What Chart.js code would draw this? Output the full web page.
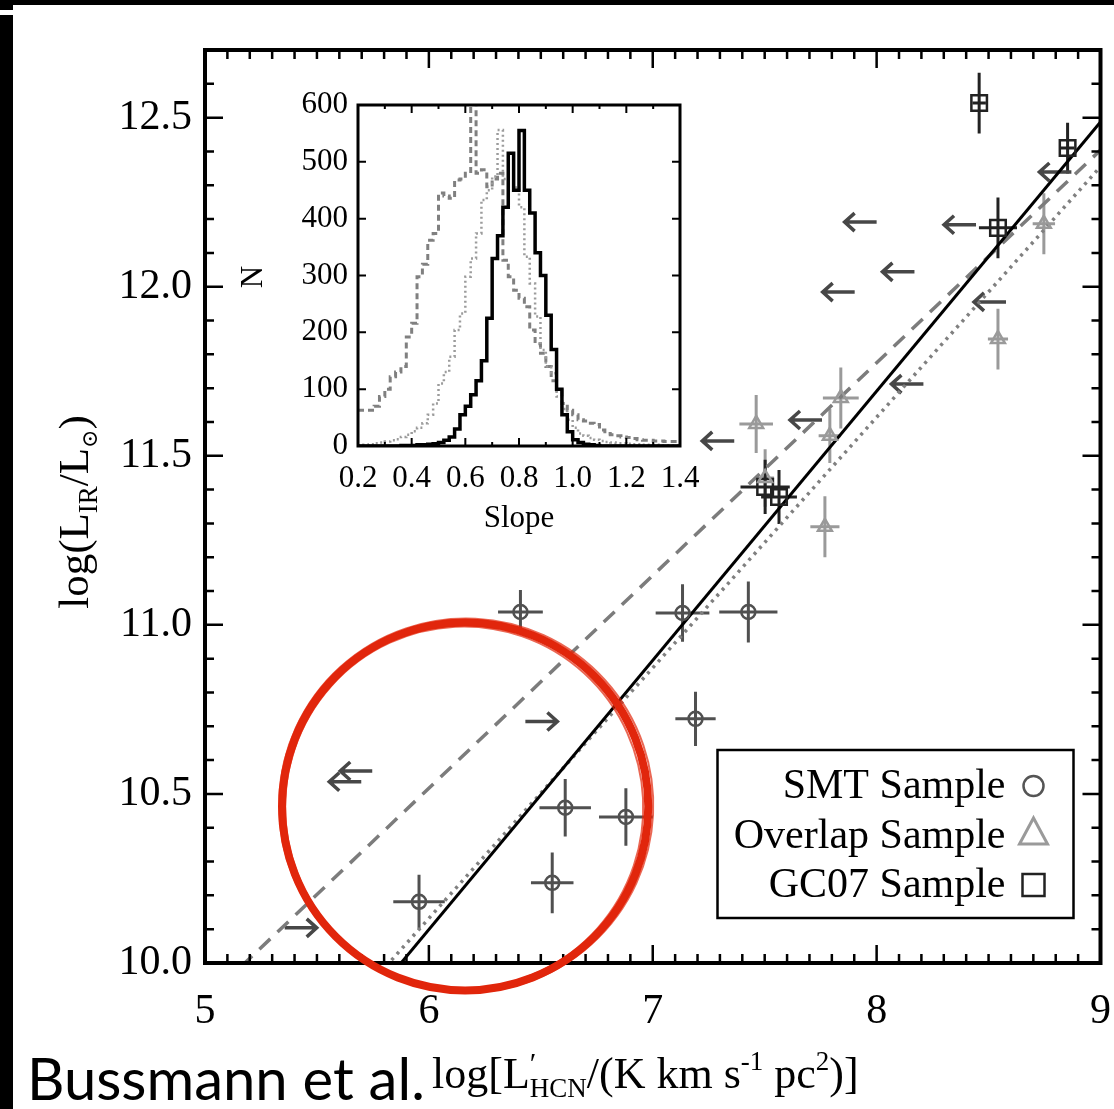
<!DOCTYPE html>
<html><head><meta charset="utf-8">
<script src="https://cdn.jsdelivr.net/npm/chart.js@4.4.0/dist/chart.umd.min.js"></script>
<style>
html,body{margin:0;padding:0;background:#fff;width:1114px;height:1109px;overflow:hidden}
body{position:relative}
#main{position:absolute;left:0;top:0;width:1114px;height:1109px}
#inset{position:absolute;left:240px;top:75px;width:470px;height:480px}
.bar{position:absolute;background:#000}
#caption{position:absolute;left:27px;top:1049px;font-family:Lato,sans-serif;font-size:58px;line-height:58px;color:#000;white-space:nowrap}
</style></head><body>
<canvas id="main" width="1114" height="1109"></canvas>
<canvas id="inset" width="470" height="480"></canvas>
<div class="bar" style="left:0;top:0;width:1114px;height:5px"></div>
<div class="bar" style="left:0;top:0;width:13px;height:10px"></div>
<div class="bar" style="left:0;top:15px;width:13px;height:1094px"></div>
<div id="caption">Bussmann et al.</div>
<script>
// ---------- main panel data ----------
const xTickLabels = [5, 6, 7, 8, 9];
const yTickLabels = [10.0, 10.5, 11.0, 11.5, 12.0, 12.5];

// SMT sample (circles)
const smtX    = [6.409, 7.133, 7.427, 7.191, 6.609, 6.880, 6.551, 5.956];
const smtY    = [11.038, 11.035, 11.038, 10.722, 10.459, 10.432, 10.237, 10.181];
const smtXerr = [0.10, 0.12, 0.13, 0.09, 0.115, 0.12, 0.095, 0.115];
const smtYerr = [0.065, 0.085, 0.09, 0.08, 0.085, 0.085, 0.09, 0.08];

// Overlap sample (triangles)
const ovX    = [8.747, 8.542, 7.840, 7.462, 7.791, 7.769, 7.502];
const ovY    = [12.186, 11.845, 11.671, 11.594, 11.559, 11.290, 11.434];
const ovXerr = [0.05, 0.045, 0.08, 0.075, 0.05, 0.065, 0.04];
const ovYerr = [0.09, 0.09, 0.09, 0.086, 0.08, 0.09, 0.085];

// GC07 sample (squares)
const gcX    = [8.458, 8.853, 8.542, 7.502, 7.564];
const gcY    = [12.543, 12.410, 12.174, 11.408, 11.378];
const gcXerr = [0.03, 0.03, 0.085, 0.11, 0.08];
const gcYerr = [0.09, 0.075, 0.09, 0.08, 0.08];

// upper limits in L'HCN (left arrows) and lower limits (right arrows)
const ulX = [8.000, 8.444, 8.169, 7.902, 8.578, 8.870, 8.209, 7.756, 7.364, 5.698, 5.747];
const ulY = [12.191, 12.183, 12.044, 11.984, 11.955, 12.339, 11.712, 11.606, 11.544, 10.536, 10.568];
const llX = [6.431, 5.356];
const llY = [10.714, 10.104];

// fits: logLIR = a + b logL'HCN
const fitStyle     = ['solid', 'dashed', 'dotted'];
const fitSlope     = [0.796, 0.629, 0.741];
const fitIntercept = [5.323, 6.743, 5.686];

// red hand-drawn circle annotation (data units)
const circleCenter = [6.162, 10.463];
const circleRadius = [0.818, 0.544];

// ---------- inset data ----------
const insetXTicks = [0.2, 0.4, 0.6, 0.8, 1.0, 1.2, 1.4];
const insetYTicks = [0, 100, 200, 300, 400, 500, 600];
const slopeBinEdges = [0.20,0.22,0.24,0.26,0.28,0.30,0.32,0.34,0.36,0.38,0.40,0.42,0.44,0.46,0.48,0.50,0.52,0.54,0.56,0.58,
  0.60,0.62,0.64,0.66,0.68,0.70,0.72,0.74,0.76,0.78,0.80,0.82,0.84,0.86,0.88,0.90,0.92,0.94,0.96,0.98,
  1.00,1.02,1.04,1.06,1.08,1.10,1.12,1.14,1.16,1.18,1.20,1.22,1.24,1.26,1.28,1.30,1.32,1.34,1.36,1.38,1.40];
const histSolid = [0,0,0,0,0,0,0,0,1,1,1,2,2,3,4,6,10,16,30,55,
  70,90,115,150,225,330,370,420,515,450,555,450,410,340,300,230,170,100,55,25,
  11,6,3,2,1,0,0,0,0,0,0,0,0,0,0,0,0,0,0,0];
const histDotted = [1,2,3,5,6,8,10,12,16,20,26,32,40,55,75,110,130,157,204,233,
  298,330,374,433,450,474,556,470,468,455,420,333,286,228,169,140,128,87,65,46,
  32,22,18,14,11,9,7,6,5,5,4,3,3,2,2,2,1,1,1,1];
const histDashed = [63,63,63,70,87,100,122,130,140,192,216,298,320,362,374,445,440,436,468,470,
  480,610,480,486,456,470,480,327,298,274,260,245,204,180,163,140,115,98,75,63,
  55,46,44,40,38,28,22,20,18,16,15,13,11,10,10,9,9,8,8,8];

const SERIF = '"Liberation Serif","Times New Roman","DejaVu Serif",serif';
const pts = (xs, ys) => xs.map((x, i) => ({x: x, y: ys[i]}));
const stepPts = (counts) => {
  const d = slopeBinEdges.slice(0, counts.length).map((e, i) => ({x: e, y: counts[i]}));
  d.push({x: slopeBinEdges[counts.length], y: counts[counts.length - 1]});
  return d;
};
const noPad = (s) => { s.paddingLeft = 0; s.paddingRight = 0; s.paddingTop = 0; s.paddingBottom = 0; };

function errBars(ctx, sx, sy, xs, ys, xe, ye, color) {
  ctx.strokeStyle = color; ctx.lineWidth = 3; ctx.lineCap = 'butt';
  xs.forEach((v, i) => {
    const px = sx.getPixelForValue(v), py = sy.getPixelForValue(ys[i]);
    ctx.beginPath();
    ctx.moveTo(sx.getPixelForValue(v - xe[i]), py);
    ctx.lineTo(sx.getPixelForValue(v + xe[i]), py);
    ctx.moveTo(px, sy.getPixelForValue(ys[i] - ye[i]));
    ctx.lineTo(px, sy.getPixelForValue(ys[i] + ye[i]));
    ctx.stroke();
  });
}
function arrow(ctx, x0, y0, dir, len) {
  const tip = x0 + dir * len;
  ctx.beginPath();
  ctx.moveTo(x0, y0); ctx.lineTo(tip, y0);
  ctx.moveTo(tip - dir * 10, y0 - 9); ctx.lineTo(tip, y0); ctx.lineTo(tip - dir * 10, y0 + 9);
  ctx.stroke();
}
function drawRuns(ctx, runs, x0, y0) {
  let x = x0;
  runs.forEach(r => {
    ctx.font = r.size + 'px ' + SERIF;
    ctx.fillText(r.t, x, y0 + (r.dy || 0));
    if (!r.noAdv) x += ctx.measureText(r.t).width;
  });
  return x - x0;
}
function runsWidth(ctx, runs) {
  let w = 0;
  runs.forEach(r => { ctx.font = r.size + 'px ' + SERIF; if (!r.noAdv) w += ctx.measureText(r.t).width; });
  return w;
}

const mainDeco = {
  id: 'mainDeco',
  beforeDatasetsDraw(chart) {
    const {ctx, scales: {x, y}} = chart;
    ctx.save();
    errBars(ctx, x, y, ovX, ovY, ovXerr, ovYerr, '#9a9a9a');
    errBars(ctx, x, y, smtX, smtY, smtXerr, smtYerr, '#505050');
    errBars(ctx, x, y, gcX, gcY, gcXerr, gcYerr, '#222');
    ctx.strokeStyle = '#474747'; ctx.lineWidth = 3.5; ctx.lineJoin = 'miter';
    ulX.forEach((v, i) => arrow(ctx, x.getPixelForValue(v), y.getPixelForValue(ulY[i]), -1, 32));
    llX.forEach((v, i) => arrow(ctx, x.getPixelForValue(v), y.getPixelForValue(llY[i]), 1, 32));
    ctx.restore();
  },
  afterDraw(chart) {
    const {ctx, chartArea: a, scales: {x, y}} = chart;
    ctx.save();
    // frame
    ctx.strokeStyle = '#000'; ctx.lineWidth = 4;
    ctx.strokeRect(a.left, a.top, a.right - a.left, a.bottom - a.top);
    // ticks
    ctx.lineWidth = 2.5;
    ctx.beginPath();
    for (let i = 50; i <= 90; i++) {
      const px = x.getPixelForValue(i / 10), len = (i % 10 === 0) ? 18 : 9;
      ctx.moveTo(px, a.bottom); ctx.lineTo(px, a.bottom - len);
      ctx.moveTo(px, a.top); ctx.lineTo(px, a.top + len);
    }
    for (let i = 100; i <= 127; i++) {
      const py = y.getPixelForValue(i / 10), len = (i % 5 === 0) ? 18 : 9;
      ctx.moveTo(a.left, py); ctx.lineTo(a.left + len, py);
      ctx.moveTo(a.right, py); ctx.lineTo(a.right - len, py);
    }
    ctx.stroke();
    // legend
    const lx = a.right - 383, ly = a.bottom - 213;
    ctx.lineWidth = 2.5; ctx.strokeStyle = '#000';
    ctx.strokeRect(lx, ly, 356, 168);
    ctx.fillStyle = '#000'; ctx.textAlign = 'right'; ctx.textBaseline = 'alphabetic';
    ctx.font = '42px ' + SERIF;
    const names = ['SMT Sample', 'Overlap Sample', 'GC07 Sample'];
    const base = [ly + 48, ly + 98, ly + 147];
    names.forEach((n, i) => ctx.fillText(n, lx + 288, base[i]));
    const sxp = lx + 316;
    ctx.lineWidth = 2.5; ctx.strokeStyle = '#555';
    ctx.beginPath(); ctx.arc(sxp, base[0] - 12, 10, 0, 2 * Math.PI); ctx.stroke();
    ctx.lineWidth = 3; ctx.strokeStyle = '#9a9a9a';
    ctx.beginPath(); ctx.moveTo(sxp, base[1] - 30); ctx.lineTo(sxp + 14, base[1] - 4); ctx.lineTo(sxp - 14, base[1] - 4); ctx.closePath(); ctx.stroke();
    ctx.lineWidth = 2.5; ctx.strokeStyle = '#222';
    ctx.strokeRect(sxp - 11, base[2] - 23, 22, 22);
    // y title
    ctx.fillStyle = '#000'; ctx.textAlign = 'left';
    const yRuns = [
      {t: 'log(L', size: 43}, {t: 'IR', size: 27, dy: 9}, {t: '/L', size: 43},
      {t: '\u2299', size: 22, dy: 9}, {t: ')', size: 43}];
    ctx.save();
    ctx.translate(88, 512); ctx.rotate(-Math.PI / 2);
    drawRuns(ctx, yRuns, -runsWidth(ctx, yRuns) / 2, 0);
    ctx.restore();
    // x title
    const xRuns = [
      {t: 'log[L', size: 44}, {t: '\u2032', size: 30, dy: -15, noAdv: true}, {t: 'HCN', size: 27, dy: 9},
      {t: '/(K km s', size: 44}, {t: '-1', size: 27, dy: -18}, {t: ' pc', size: 44},
      {t: '2', size: 27, dy: -18}, {t: ')]', size: 44}];
    drawRuns(ctx, xRuns, 432, 1088);
    // red circle annotation
    const cx = x.getPixelForValue(circleCenter[0]), cy = y.getPixelForValue(circleCenter[1]);
    const rx = x.getPixelForValue(circleCenter[0] + circleRadius[0]) - cx;
    const ry = cy - y.getPixelForValue(circleCenter[1] + circleRadius[1]);
    ctx.strokeStyle = '#e1260c'; ctx.lineWidth = 8;
    ctx.beginPath(); ctx.ellipse(cx, cy, rx, ry, 0, 0, 2 * Math.PI); ctx.stroke();
    ctx.lineWidth = 2; ctx.globalAlpha = 0.7;
    ctx.beginPath(); ctx.ellipse(cx + 1, cy - 1, rx + 4, ry + 3, 0.05, 0, 2 * Math.PI); ctx.stroke();
    ctx.beginPath(); ctx.ellipse(cx - 1, cy + 1, rx - 4, ry - 3, -0.05, 0, 2 * Math.PI); ctx.stroke();
    ctx.restore();
  }
};

const tickFont = {family: SERIF, size: 42};
new Chart(document.getElementById('main'), {
  type: 'scatter',
  data: {
    datasets: [
      {label: 'SMT Sample', data: pts(smtX, smtY), pointStyle: 'circle', pointRadius: 7,
       borderColor: '#505050', borderWidth: 2.5, backgroundColor: 'rgba(0,0,0,0)'},
      {label: 'Overlap Sample', data: pts(ovX, ovY), pointStyle: 'triangle', pointRadius: 8,
       borderColor: '#9a9a9a', borderWidth: 2.5, backgroundColor: 'rgba(0,0,0,0)'},
      {label: 'GC07 Sample', data: pts(gcX, gcY), pointStyle: 'rect', pointRadius: 11,
       borderColor: '#222', borderWidth: 2.5, backgroundColor: 'rgba(0,0,0,0)'},
      ...fitStyle.map((s, i) => ({
        label: 'fit ' + s, type: 'line', showLine: true, pointRadius: 0,
        data: [5, 9].map(v => ({x: v, y: fitIntercept[i] + fitSlope[i] * v})),
        borderColor: s === 'solid' ? '#000' : (s === 'dashed' ? '#7c7c7c' : '#808080'),
        borderWidth: s === 'solid' ? 3 : 3.5,
        borderDash: s === 'solid' ? [] : (s === 'dashed' ? [15, 10] : [3, 5]),
        fill: false
      }))
    ]
  },
  options: {
    responsive: false, animation: false, events: [],
    layout: {padding: {top: 50, right: 9, left: 0, bottom: 0}},
    plugins: {legend: {display: false}, tooltip: {enabled: false}},
    scales: {
      x: {type: 'linear', min: 5, max: 9,
          afterFit(s) { s.height = 146; noPad(s); },
          afterBuildTicks(s) { s.ticks = xTickLabels.map(v => ({value: v})); },
          grid: {display: false, drawTicks: false}, border: {display: false},
          ticks: {padding: 24, font: tickFont, color: '#000', autoSkip: false, maxRotation: 0,
                  callback: v => String(v)}},
      y: {type: 'linear', min: 10, max: 12.7,
          afterFit(s) { s.width = 205; noPad(s); },
          afterBuildTicks(s) { s.ticks = yTickLabels.map(v => ({value: v})); },
          grid: {display: false, drawTicks: false}, border: {display: false},
          ticks: {padding: 13, font: tickFont, color: '#000', autoSkip: false,
                  callback: v => Number(v).toFixed(1)}}
    }
  },
  plugins: [mainDeco]
});

// ---------- inset ----------
const insetDeco = {
  id: 'insetDeco',
  afterDraw(chart) {
    const {ctx, chartArea: a, scales: {x, y}} = chart;
    ctx.save();
    ctx.strokeStyle = '#000'; ctx.lineWidth = 3;
    ctx.strokeRect(a.left, a.top, a.right - a.left, a.bottom - a.top);
    ctx.lineWidth = 2;
    ctx.beginPath();
    for (let i = 2; i <= 14; i++) {
      const px = x.getPixelForValue(i / 10), len = (i % 2 === 0) ? 8 : 4;
      ctx.moveTo(px, a.bottom); ctx.lineTo(px, a.bottom - len);
      ctx.moveTo(px, a.top); ctx.lineTo(px, a.top + len);
    }
    insetYTicks.forEach(v => {
      const py = y.getPixelForValue(v);
      ctx.moveTo(a.left, py); ctx.lineTo(a.left + 8, py);
      ctx.moveTo(a.right, py); ctx.lineTo(a.right - 8, py);
    });
    ctx.stroke();
    ctx.fillStyle = '#000';
    ctx.font = '31px ' + SERIF;
    ctx.textAlign = 'center'; ctx.textBaseline = 'alphabetic';
    ctx.fillText('Slope', (a.left + a.right) / 2, a.bottom + 81);
    ctx.save();
    ctx.translate(a.left - 96, a.top + 172); ctx.rotate(-Math.PI / 2);
    ctx.fillText('N', 0, 0);
    ctx.restore();
    ctx.restore();
  }
};
const insetFont = {family: SERIF, size: 31};
new Chart(document.getElementById('inset'), {
  type: 'scatter',
  data: {
    datasets: [
      {label: 'solid', type: 'line', showLine: true, stepped: 'before', pointRadius: 0,
       data: stepPts(histSolid), borderColor: '#000', borderWidth: 3.5, fill: false},
      {label: 'dotted', type: 'line', showLine: true, stepped: 'before', pointRadius: 0,
       data: stepPts(histDotted), borderColor: '#9c9c9c', borderWidth: 2.5, borderDash: [2, 3], fill: false},
      {label: 'dashed', type: 'line', showLine: true, stepped: 'before', pointRadius: 0,
       data: stepPts(histDashed), borderColor: '#808080', borderWidth: 3, borderDash: [6, 4], fill: false}
    ]
  },
  options: {
    responsive: false, animation: false, events: [],
    layout: {padding: {top: 30, right: 30, left: 0, bottom: 0}},
    plugins: {legend: {display: false}, tooltip: {enabled: false}},
    scales: {
      x: {type: 'linear', min: 0.2, max: 1.4,
          afterFit(s) { s.height = 109; noPad(s); },
          afterBuildTicks(s) { s.ticks = insetXTicks.map(v => ({value: v})); },
          grid: {display: false, drawTicks: false}, border: {display: false},
          ticks: {padding: 14, font: insetFont, color: '#000', autoSkip: false, maxRotation: 0,
                  callback: v => Number(v).toFixed(1)}},
      y: {type: 'linear', min: 0, max: 600,
          afterFit(s) { s.width = 118; noPad(s); },
          afterBuildTicks(s) { s.ticks = insetYTicks.map(v => ({value: v})); },
          grid: {display: false, drawTicks: false}, border: {display: false},
          ticks: {padding: 10, font: insetFont, color: '#000', autoSkip: false,
                  callback: v => String(v)}}
    }
  },
  plugins: [insetDeco]
});
</script>
</body></html>
